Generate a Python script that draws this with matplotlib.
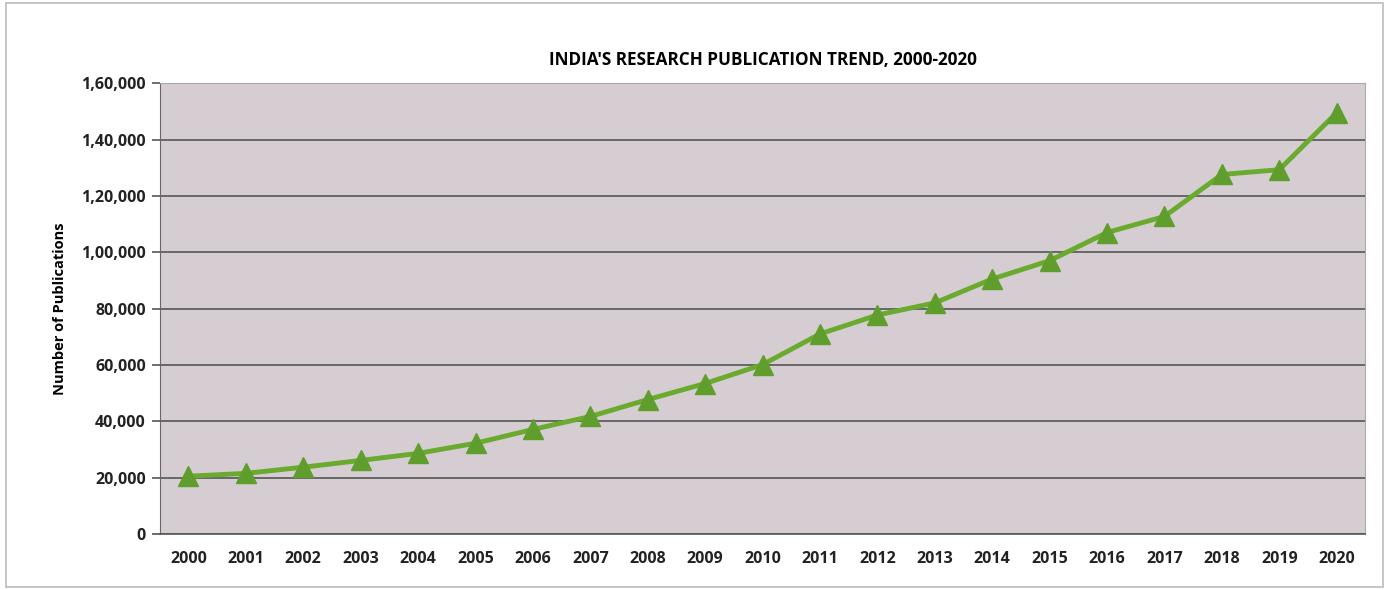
import matplotlib.pyplot as plt
from matplotlib.patches import Rectangle

years = ['2000', '2001', '2002', '2003', '2004', '2005', '2006', '2007', '2008', '2009', '2010',
         '2011', '2012', '2013', '2014', '2015', '2016', '2017', '2018', '2019', '2020']
publications = [20500, 21500, 23700, 26100, 28600, 32200, 37100, 41700, 47700, 53400, 60100,
                71000, 77700, 82000, 90500, 97000, 107000, 112700, 127600, 129300, 149500]
ytick_vals = [0, 20000, 40000, 60000, 80000, 100000, 120000, 140000, 160000]
ytick_labels = ['0', '20,000', '40,000', '60,000', '80,000', '1,00,000', '1,20,000', '1,40,000', '1,60,000']

plt.rcParams['font.family'] = ['Open Sans', 'DejaVu Sans']

fig = plt.figure(figsize=(13.89, 5.90), dpi=100)
fig.patch.set_facecolor('white')
# faint border of the chart frame
fig.patches.append(Rectangle((0.004, 0.005), 0.992, 0.99, transform=fig.transFigure,
                             fill=False, edgecolor='#bbbbbb', linewidth=1.2))

ax = fig.add_axes([0.115, 0.095, 0.868, 0.764])
ax.set_facecolor('#d5cdd2')

x = range(len(years))
ax.plot(x, publications, color='#6aaa2e', linewidth=3.5, marker='^',
        markersize=14, markerfacecolor='#5f9e2c', markeredgecolor='#5f9e2c', zorder=3)

ax.set_xlim(-0.5, len(years) - 0.5)
ax.set_ylim(0, 160000)
ax.set_xticks(list(x))
ax.set_xticklabels(years, fontsize=11.5, fontweight='bold', color='#222222')
ax.set_yticks(ytick_vals)
ax.set_yticklabels(ytick_labels, fontsize=11.5, fontweight='bold', color='#222222')
ax.tick_params(axis='x', length=0, pad=12)
ax.tick_params(axis='y', length=6, color='#555555', width=1.2, pad=4)

ax.yaxis.grid(True, color='#555555', linewidth=1.2)
ax.set_axisbelow(True)
for side in ['top', 'right']:
    ax.spines[side].set_color('#aaaaaa')
    ax.spines[side].set_linewidth(0.8)
ax.spines['left'].set_color('#666666')
ax.spines['bottom'].set_color('#555555')
ax.spines['bottom'].set_linewidth(1.2)

ax.set_ylabel('Number of Publications', fontsize=10.5, fontweight='bold', labelpad=10)
ax.set_title("INDIA'S RESEARCH PUBLICATION TREND, 2000-2020", fontsize=12.3,
             fontweight='bold', pad=13)

fig.savefig('out.png', dpi=100)
